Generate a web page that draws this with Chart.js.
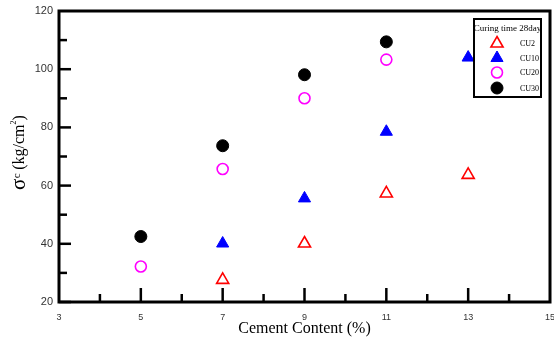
<!DOCTYPE html>
<html>
<head>
<meta charset="utf-8">
<script src="https://cdn.jsdelivr.net/npm/chart.js@4.4.1/dist/chart.umd.min.js"></script>
<style>
  html, body { margin: 0; padding: 0; background: #fff; overflow: hidden; }
  #wrap { width: 554px; height: 344px; position: relative; }
</style>
</head>
<body>
<div id="wrap"><canvas id="c" width="554" height="344"></canvas></div>
<script>
// Compressive strength vs. cement content, 28-day curing
const cementCU2  = [7, 9, 11, 13];
const strengthCU2  = [27.6, 40.1, 57.3, 63.7];
const cementCU10 = [7, 9, 11, 13];
const strengthCU10 = [40.1, 55.6, 78.5, 104.0];
const cementCU20 = [5, 7, 9, 11];
const strengthCU20 = [32.2, 65.7, 90.0, 103.3];
const cementCU30 = [5, 7, 9, 11];
const strengthCU30 = [42.5, 73.7, 98.1, 109.4];
const seriesNames = ['CU2', 'CU10', 'CU20', 'CU30'];
const legendTitle = 'Curing time 28day';
const xTitle = 'Cement Content (%)';
const xTicks = [3, 5, 7, 9, 11, 13, 15];
const yTicks = [20, 40, 60, 80, 100, 120];

const pts = (xs, ys) => xs.map((x, i) => ({ x: x, y: ys[i] }));
const SERIF = '"Liberation Serif", "Times New Roman", serif';
const SANS = '"Liberation Sans", Arial, sans-serif';

// Frame, inward tick marks, tick labels, axis titles and boxed legend
const decor = {
  id: 'decor',
  afterDraw(chart) {
    const { ctx, chartArea: a, scales: { x, y } } = chart;
    ctx.save();
    ctx.strokeStyle = '#000';
    ctx.lineCap = 'butt';
    // inward ticks on the x axis
    ctx.lineWidth = 2.5;
    for (let v = 4; v <= 14; v++) {
      const px = x.getPixelForValue(v);
      const len = (v % 2 === 1) ? 14 : 8;
      ctx.beginPath(); ctx.moveTo(px, a.bottom); ctx.lineTo(px, a.bottom - len); ctx.stroke();
    }
    // inward ticks on the y axis
    for (let v = 20; v <= 110; v += 10) {
      const py = y.getPixelForValue(v);
      const len = (v % 20 === 0) ? 12 : 8;
      ctx.beginPath(); ctx.moveTo(a.left, py); ctx.lineTo(a.left + len, py); ctx.stroke();
    }
    // frame
    ctx.lineWidth = 3;
    ctx.strokeRect(a.left, a.top, a.right - a.left, a.bottom - a.top);

    // tick labels
    ctx.fillStyle = '#333';
    ctx.font = '9px ' + SANS;
    ctx.textAlign = 'center';
    ctx.textBaseline = 'middle';
    xTicks.forEach(v => ctx.fillText(String(v), x.getPixelForValue(v), 318));
    ctx.font = '11px ' + SANS;
    ctx.textAlign = 'right';
    yTicks.forEach(v => ctx.fillText(String(v), 53, y.getPixelForValue(v)));

    // x title
    ctx.fillStyle = '#000';
    ctx.font = '16px ' + SERIF;
    ctx.textAlign = 'center';
    ctx.textBaseline = 'middle';
    ctx.fillText(xTitle, (a.left + a.right) / 2, 329);

    // y title, rotated: sigma with small c, then units
    ctx.save();
    ctx.translate(25, 190);
    ctx.rotate(-Math.PI / 2);
    ctx.textAlign = 'left';
    ctx.textBaseline = 'alphabetic';
    ctx.font = '21px ' + SERIF;
    ctx.fillText('σ', 0, 0);
    let w = ctx.measureText('σ').width;
    ctx.font = '11px ' + SERIF;
    ctx.fillText('c', w + 0.5, -5);
    w += ctx.measureText('c').width + 4;
    ctx.font = '16px ' + SERIF;
    ctx.fillText('(kg/cm', w, -1);
    w += ctx.measureText('(kg/cm').width;
    ctx.font = '8px ' + SERIF;
    ctx.fillText('2', w, -9);
    w += ctx.measureText('2').width;
    ctx.font = '16px ' + SERIF;
    ctx.fillText(')', w, -1);
    ctx.restore();

    // legend box
    const bx = 474, by = 19, bw = 67, bh = 78;
    ctx.fillStyle = '#fff';
    ctx.fillRect(bx, by, bw, bh);
    ctx.lineWidth = 2;
    ctx.strokeStyle = '#000';
    ctx.strokeRect(bx, by, bw, bh);
    ctx.fillStyle = '#000';
    ctx.font = '9px ' + SERIF;
    ctx.textAlign = 'center';
    ctx.textBaseline = 'middle';
    ctx.fillText(legendTitle, bx + bw / 2, 29);
    const rows = [43.5, 58, 72.5, 88];
    chart.data.datasets.forEach((ds, i) => {
      const opts = {
        pointStyle: ds.pointStyle,
        radius: ds.pointRadius,
        rotation: 0,
        borderWidth: ds.borderWidth
      };
      ctx.fillStyle = ds.backgroundColor;
      ctx.strokeStyle = ds.borderColor;
      ctx.lineWidth = ds.borderWidth;
      Chart.helpers.drawPoint(ctx, opts, 497, rows[i]);
      ctx.fillStyle = '#000';
      ctx.font = '8px ' + SERIF;
      ctx.textAlign = 'left';
      ctx.fillText(ds.label, 520, rows[i] + 0.5);
    });
    ctx.restore();
  }
};

new Chart(document.getElementById('c'), {
  type: 'scatter',
  data: {
    datasets: [
      { label: seriesNames[0], data: pts(cementCU2, strengthCU2), pointStyle: 'triangle',
        pointRadius: 7, borderWidth: 1.6, borderColor: '#ff0000', backgroundColor: '#ffffff' },
      { label: seriesNames[1], data: pts(cementCU10, strengthCU10), pointStyle: 'triangle',
        pointRadius: 7, borderWidth: 1, borderColor: '#0000ff', backgroundColor: '#0000ff' },
      { label: seriesNames[2], data: pts(cementCU20, strengthCU20), pointStyle: 'circle',
        pointRadius: 5.5, borderWidth: 1.6, borderColor: '#ff00ff', backgroundColor: '#ffffff' },
      { label: seriesNames[3], data: pts(cementCU30, strengthCU30), pointStyle: 'circle',
        pointRadius: 6, borderWidth: 1, borderColor: '#000000', backgroundColor: '#000000' }
    ]
  },
  options: {
    responsive: false,
    animation: false,
    layout: { autoPadding: false, padding: { top: 11, right: 4, left: 0, bottom: 0 } },
    plugins: { legend: { display: false }, tooltip: { enabled: false } },
    scales: {
      x: {
        type: 'linear', min: 3, max: 15,
        afterBuildTicks: s => { s.ticks = xTicks.map(v => ({ value: v })); },
        afterFit: s => { s.height = 42; },
        grid: { display: false },
        border: { display: false },
        ticks: { display: false }
      },
      y: {
        type: 'linear', min: 20, max: 120,
        afterBuildTicks: s => { s.ticks = yTicks.map(v => ({ value: v })); },
        afterFit: s => { s.width = 59; },
        grid: { display: false },
        border: { display: false },
        ticks: { display: false }
      }
    }
  },
  plugins: [decor]
});
</script>
</body>
</html>
